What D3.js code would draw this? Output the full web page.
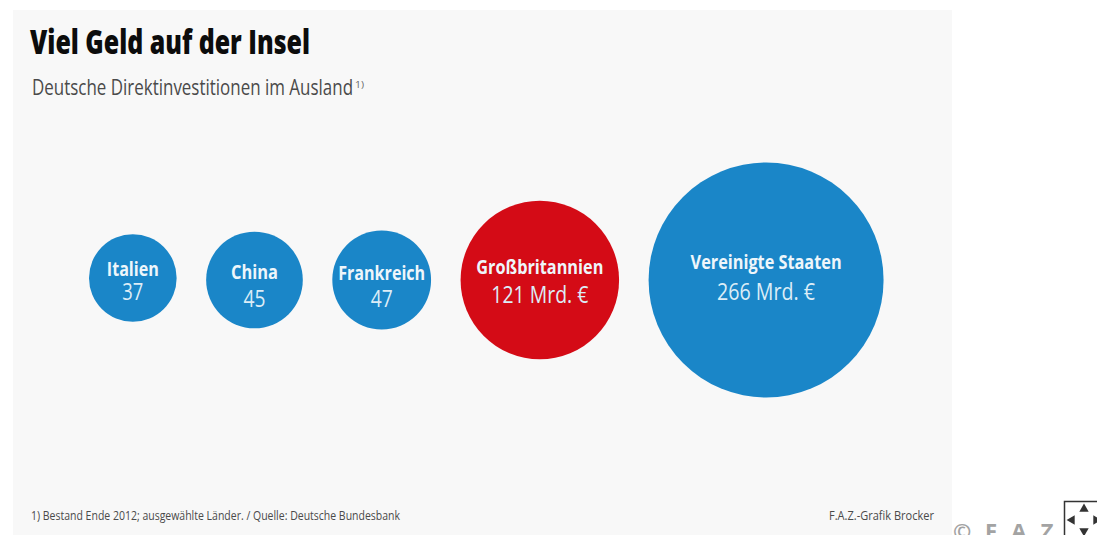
<!DOCTYPE html>
<html lang="de">
<head>
<meta charset="utf-8">
<script src="https://cdn.jsdelivr.net/npm/d3@7/dist/d3.min.js"></script>
<style>
html,body{margin:0;padding:0;background:#fff;overflow:hidden}
svg{display:block}
text{font-family:"Open Sans","Noto Sans",sans-serif}
</style>
</head>
<body>
<script>
// Bestand deutscher Direktinvestitionen, Mrd. Euro
const countries = ["Italien", "China", "Frankreich", "Großbritannien", "Vereinigte Staaten"];
const values = [37, 45, 47, 121, 266];
const valueLabels = ["37", "45", "47", "121 Mrd. €", "266 Mrd. €"];
const highlighted = ["Großbritannien"];

const W = 1097, H = 535;
const svg = d3.select("body").append("svg").attr("width", W).attr("height", H);

svg.append("rect").attr("x", 13).attr("y", 10).attr("width", 939).attr("height", 525).attr("fill", "#f8f8f8");

// Fits a label to a fixed width by condensing the glyphs
function label(x, y, str, size, width, weight, fill, anchor) {
  return svg.append("text")
    .attr("x", x).attr("y", y)
    .attr("font-size", size).attr("font-weight", weight)
    .attr("fill", fill).attr("text-anchor", anchor || "start")
    .attr("textLength", width).attr("lengthAdjust", "spacingAndGlyphs")
    .text(str);
}

label(30, 54, "Viel Geld auf der Insel", 33, 280, 800, "#0c0c0c");
label(32, 95, "Deutsche Direktinvestitionen im Ausland", 21, 321, 400, "#4a4a4a");
label(355, 88, "1)", 9, 9, 400, "#666");
label(31, 520, "1) Bestand Ende 2012; ausgewählte Länder. / Quelle: Deutsche Bundesbank", 12.5, 369, 400, "#4a4a4a");
label(934, 520, "F.A.Z.-Grafik Brocker", 12.5, 105, 400, "#4a4a4a", "end");

// Kreisfläche proportional zum Wert
const radius = d3.scaleSqrt().domain([0, d3.max(values)]).range([0, 117.5]);
const rowStart = 89, rowGap = 29.5, rowY = 280;
let cursor = rowStart;
const nodes = countries.map((name, i) => {
  const r = radius(values[i]);
  const cx = cursor + r;
  cursor += 2 * r + rowGap;
  return { name, value: values[i], text: valueLabels[i], r, cx };
});

svg.selectAll("circle.bubble").data(nodes).join("circle")
  .attr("class", "bubble")
  .attr("cx", d => d.cx)
  .attr("cy", (d, i) => i === 0 ? rowY - 2 : rowY)
  .attr("r", d => d.r)
  .attr("fill", d => highlighted.includes(d.name) ? "#d40b16" : "#1a86c8");

const nameWidths = [52, 47, 87, 127, 151];
const valueWidths = [21, 22, 22, 97, 98];
const nameOffsets = [-2, -1, 0, -6, -11];
const valueOffsets = [22, 27, 27, 23, 20];

nodes.forEach((d, i) => {
  const yBase = i === 0 ? rowY - 2 : rowY;
  label(d.cx, yBase + nameOffsets[i], d.name, 20, nameWidths[i], 700, "#eef6fb", "middle");
  label(d.cx, yBase + valueOffsets[i], d.text, 23, valueWidths[i], 400, "#dcedf7", "middle");
});

// Copyright-Zeile und Navigationssymbol am unteren Rand
svg.append("text").attr("x", 953).attr("y", 539)
  .attr("font-size", 22).attr("font-weight", 700).attr("fill", "#a3a3a3")
  .attr("letter-spacing", 4).attr("font-family", "Liberation Sans").text("© F.A.Z.");

const icon = svg.append("g");
icon.append("rect").attr("x", 1064.5).attr("y", 501.5).attr("width", 40).attr("height", 40)
  .attr("fill", "#fff").attr("stroke", "#333").attr("stroke-width", 1.5);
const arrow = d3.symbol().type(d3.symbolTriangle).size(38);
[[1084, 509, 0], [1084, 531, 180], [1072, 520, -90], [1096, 520, 90]].forEach(([x, y, a]) => {
  icon.append("path").attr("d", arrow).attr("fill", "#333")
    .attr("transform", `translate(${x},${y}) rotate(${a})`);
});
</script>
</body>
</html>
